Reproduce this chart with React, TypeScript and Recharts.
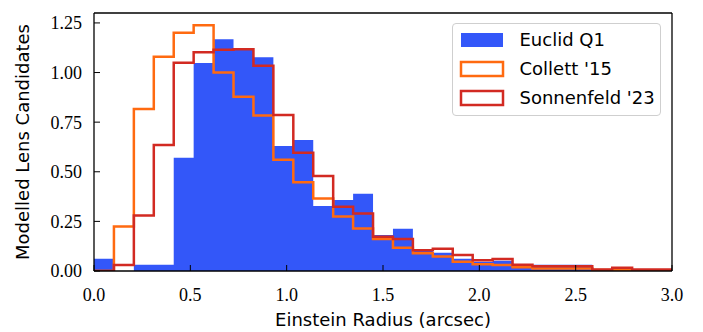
import React from "react";
import { ComposedChart, Area, Line, XAxis, YAxis, Legend } from "recharts";

// 29 equal-width bins spanning 0 – 3.0 arcsec
const X_MIN = 0;
const X_MAX = 3.0;

const euclidQ1 = [
  0.062, 0.0, 0.032, 0.032, 0.571, 1.048, 1.168, 1.113, 1.077, 0.63,
  0.66, 0.328, 0.358, 0.389, 0.181, 0.213, 0.104, 0.092, 0.062, 0.047,
  0.052, 0.026, 0.031, 0.031, 0.031, 0.0, 0.0, 0.0, 0.0,
];

const collett15 = [
  0.0, 0.224, 0.816, 1.08, 1.2, 1.238, 1.0, 0.878, 0.784, 0.56,
  0.447, 0.365, 0.275, 0.214, 0.161, 0.117, 0.09, 0.073, 0.047, 0.034,
  0.03, 0.019, 0.012, 0.012, 0.012, 0.005, 0.004, 0.003, 0.003,
];

const sonnenfeld23 = [
  0.0, 0.03, 0.28, 0.635, 1.049, 1.102, 1.115, 1.117, 1.034, 0.786,
  0.596, 0.479, 0.324, 0.29, 0.172, 0.161, 0.104, 0.112, 0.081, 0.054,
  0.061, 0.032, 0.024, 0.024, 0.024, 0.008, 0.017, 0.008, 0.008,
];

const seriesNames = ["Euclid Q1", "Collett '15", "Sonnenfeld '23"];
const xTicks = [0, 0.5, 1.0, 1.5, 2.0, 2.5, 3.0];
const yTicks = [0, 0.25, 0.5, 0.75, 1.0, 1.25];
const Y_DOMAIN = [0, 1.3];

const BLUE = "#3357F9";
const ORANGE = "#FF6A10";
const RED = "#D22A22";

const SERIES_STYLE: Record<string, { fill: string; stroke: string }> = {
  [seriesNames[0]]: { fill: BLUE, stroke: "none" },
  [seriesNames[1]]: { fill: "#ffffff", stroke: ORANGE },
  [seriesNames[2]]: { fill: "#ffffff", stroke: RED },
};

function stepData(values: number[], closed: boolean) {
  const w = (X_MAX - X_MIN) / values.length;
  const pts = values.map((v, i) => ({ x: X_MIN + i * w, y: v }));
  pts.push({ x: X_MAX, y: values[values.length - 1] });
  if (closed) {
    pts.unshift({ x: X_MIN, y: 0 });
    pts.push({ x: X_MAX, y: 0 });
  }
  return pts;
}

const euclidData = stepData(euclidQ1, false);
const collettData = stepData(collett15, true);
const sonnenfeldData = stepData(sonnenfeld23, true);

const tickFont = { fill: "#000", fontSize: 18, fontFamily: "Liberation Serif" };
const labelFont = { fill: "#000", fontSize: 18, fontFamily: "DejaVu Sans" };
const axisLine = { stroke: "#000", strokeWidth: 1.3 };
const tickLine = { stroke: "#000", strokeWidth: 1 };

const renderLegend = (props: any) => {
  const payload = props.payload || [];
  const ordered = seriesNames
    .map((n) => payload.find((p: any) => p.value === n))
    .filter(Boolean);
  return (
    <div
      style={{
        boxSizing: "border-box",
        width: 209,
        height: 93,
        border: "1.3px solid #cfcfcf",
        borderRadius: 4,
        background: "rgba(255,255,255,0.85)",
        padding: "1px 0 0 6px",
        fontFamily: "DejaVu Sans",
        fontSize: 18,
        color: "#000",
      }}
    >
      {ordered.map((entry: any) => {
        const st = SERIES_STYLE[entry.value] || { fill: entry.color, stroke: "none" };
        return (
          <div
            key={entry.value}
            style={{ display: "flex", alignItems: "center", height: 29.3 }}
          >
            <svg width={46} height={18} style={{ display: "block" }}>
              {st.stroke === "none" ? (
                <rect x={2} y={2} width={42} height={14} fill={st.fill} />
              ) : (
                <rect
                  x={2}
                  y={2}
                  width={42}
                  height={14}
                  fill={st.fill}
                  stroke={st.stroke}
                  strokeWidth={2.5}
                />
              )}
            </svg>
            <span style={{ marginLeft: 14.5, whiteSpace: "nowrap", lineHeight: "20px" }}>
              {entry.value}
            </span>
          </div>
        );
      })}
    </div>
  );
};

export default function App() {
  return (
    <div
      style={{
        position: "absolute",
        left: 0,
        top: 0,
        width: 703,
        height: 332,
        background: "#fff",
      }}
    >
      <ComposedChart
        width={703}
        height={332}
        margin={{ top: 12, right: 30, bottom: 31, left: 0 }}
      >
        <XAxis
          xAxisId="b"
          dataKey="x"
          type="number"
          domain={[X_MIN, X_MAX]}
          ticks={xTicks}
          allowDataOverflow
          orientation="bottom"
          height={30}
          tickSize={-6}
          tickMargin={23}
          interval={0}
          tickFormatter={(v: number) => v.toFixed(1)}
          tick={tickFont}
          axisLine={axisLine}
          tickLine={tickLine}
          label={{
            value: "Einstein Radius (arcsec)",
            position: "bottom",
            offset: 12,
            style: labelFont,
          }}
        />
        <XAxis
          xAxisId="t"
          dataKey="x"
          type="number"
          domain={[X_MIN, X_MAX]}
          ticks={xTicks}
          allowDataOverflow
          orientation="top"
          height={1}
          tickSize={-6}
          interval={0}
          tick={false}
          axisLine={axisLine}
          tickLine={tickLine}
        />
        <YAxis
          yAxisId="l"
          type="number"
          domain={Y_DOMAIN}
          ticks={yTicks}
          allowDataOverflow
          orientation="left"
          width={94}
          tickSize={-6}
          tickMargin={18}
          interval={0}
          tickFormatter={(v: number) => v.toFixed(2)}
          tick={tickFont}
          axisLine={axisLine}
          tickLine={tickLine}
          label={{
            value: "Modelled Lens Candidates",
            angle: -90,
            position: "insideLeft",
            offset: 23,
            style: { ...labelFont, textAnchor: "middle" },
          }}
        />
        <YAxis
          yAxisId="r"
          type="number"
          domain={Y_DOMAIN}
          ticks={yTicks}
          allowDataOverflow
          orientation="right"
          width={1}
          tickSize={-6}
          interval={0}
          tick={false}
          axisLine={axisLine}
          tickLine={tickLine}
        />
        <Area
          xAxisId="b"
          yAxisId="l"
          data={euclidData}
          dataKey="y"
          name={seriesNames[0]}
          type="stepAfter"
          fill={BLUE}
          fillOpacity={1}
          stroke="none"
          isAnimationActive={false}
          dot={false}
          activeDot={false}
        />
        <Line
          xAxisId="b"
          yAxisId="l"
          data={collettData}
          dataKey="y"
          name={seriesNames[1]}
          type="stepAfter"
          stroke={ORANGE}
          strokeWidth={2.5}
          strokeLinejoin="miter"
          dot={false}
          activeDot={false}
          isAnimationActive={false}
        />
        <Line
          xAxisId="b"
          yAxisId="l"
          data={sonnenfeldData}
          dataKey="y"
          name={seriesNames[2]}
          type="stepAfter"
          stroke={RED}
          strokeWidth={2.5}
          strokeLinejoin="miter"
          dot={false}
          activeDot={false}
          isAnimationActive={false}
        />
        <Legend
          layout="horizontal"
          verticalAlign="middle"
          align="center"
          content={renderLegend}
          wrapperStyle={{ left: 452, top: 23, width: 209, height: 93 }}
        />
      </ComposedChart>
    </div>
  );
}
